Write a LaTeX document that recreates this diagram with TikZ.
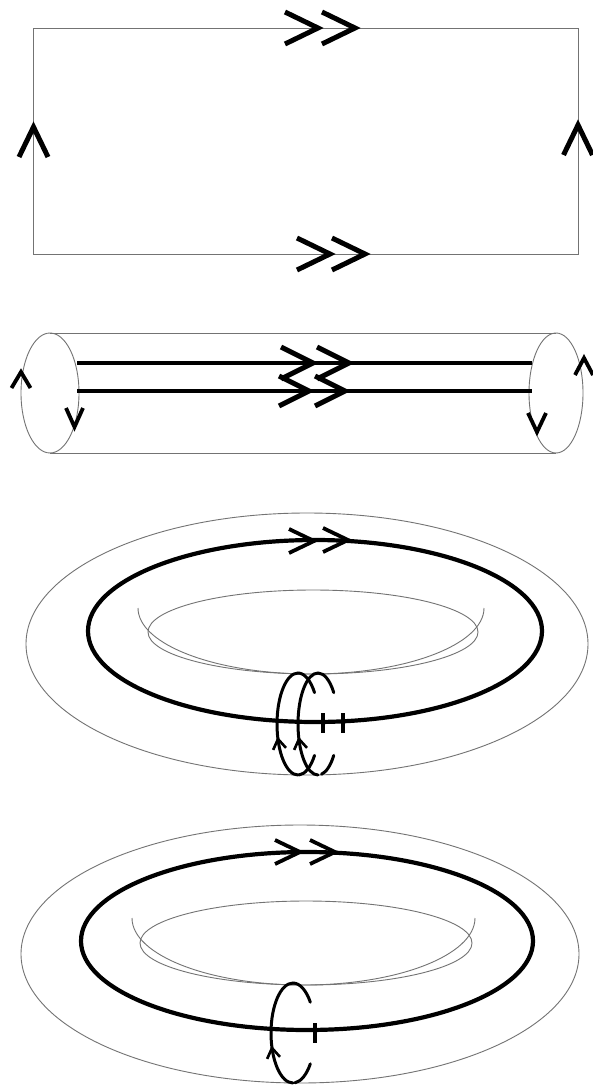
\documentclass[tikz,border=0pt]{standalone}
\begin{document}
\begin{tikzpicture}[x=1pt,y=1pt,
  outline/.style={draw=black!55, line width=0.9pt},
  strand/.style={draw=black, line width=4.8pt},
  ring/.style={draw=black, line width=4.2pt},
  loopline/.style={draw=black, line width=3pt, line cap=round},
  tickmark/.style={draw=black, line width=3.6pt},
  chevline/.style={draw=black, line join=miter, line cap=butt},
  pics/chev/.style n args={3}{code={\draw[chevline, line width=#3] (-#1,#2) -- (0,0) -- (-#1,-#2);}}
]
\useasboundingbox[fill=white] (0,0) rectangle (593,-1086);

% ---------- square ----------
\draw[outline] (33,-28) rectangle (578,-254);
\pic at (318,-28) {chev={33}{16}{5pt}};
\pic at (355,-28) {chev={33}{16}{5pt}};
\pic at (330,-254) {chev={33}{16}{5pt}};
\pic at (365,-254) {chev={33}{16}{5pt}};
\pic[rotate=90] at (33.5,-127) {chev={30}{14.5}{5pt}};
\pic[rotate=90] at (578,-125) {chev={30}{14.5}{5pt}};

% ---------- cylinder ----------
\draw[outline] (50,-393) ellipse[x radius=29, y radius=60];
\draw[outline] (556,-393) ellipse[x radius=27, y radius=60];
\draw[outline] (50,-333) -- (556,-333);
\draw[outline] (50,-453) -- (556,-453);
\draw[strand] (77,-363) -- (532,-363);
\draw[strand] (77,-391) -- (532,-391);
\pic at (313,-363) {chev={32}{16}{5pt}};
\pic at (349,-363) {chev={32}{16}{5pt}};
\pic at (309,-391) {chev={30}{15}{5pt}};
\pic at (345,-391) {chev={30}{15}{5pt}};
\pic[rotate=90] at (21,-372) {chev={16}{9.5}{3.8pt}};
\pic[rotate=-90] at (74.5,-427) {chev={19}{8.5}{3.8pt}};
\pic[rotate=90] at (584,-358) {chev={17}{9}{3.8pt}};
\pic[rotate=-90] at (537,-432) {chev={19}{9}{3.8pt}};

% ---------- torus 1 ----------
\draw[outline] (307,-644) ellipse[x radius=281, y radius=131];
\draw[outline] (313,-632) ellipse[x radius=165, y radius=42];
\draw[outline] (138,-608) arc[start angle=180, end angle=360, x radius=173, y radius=66];
\draw[ring] (315,-631) ellipse[x radius=227, y radius=91];
\pic at (314,-541) {chev={25}{12}{3.8pt}};
\pic at (348,-540) {chev={25}{12}{3.8pt}};
% meridian loops
\draw[loopline] (298,-775) arc[start angle=270, end angle=90, x radius=21, y radius=51];
\draw[loopline] (298,-673) arc[start angle=90, end angle=38, x radius=21, y radius=51];
\draw[loopline] (298,-724) ++(-38:21 and 51) arc[start angle=-38, end angle=-88, x radius=21, y radius=51];
\draw[loopline] (318,-775) arc[start angle=270, end angle=90, x radius=20, y radius=51];
\draw[loopline] (318,-673) arc[start angle=90, end angle=38, x radius=20, y radius=51];
\draw[loopline] (318,-724) ++(-38:20 and 51) arc[start angle=-38, end angle=-80, x radius=20, y radius=51];
\pic[rotate=99] at (278,-739) {chev={10}{6.5}{2.6pt}};
\pic[rotate=99] at (299,-739) {chev={10}{6.5}{2.6pt}};
\draw[tickmark] (323,-713) -- (323,-733);
\draw[tickmark] (343,-713) -- (343,-733);

% ---------- torus 2 ----------
\draw[outline] (300,-954) ellipse[x radius=279, y radius=129];
\draw[outline] (306,-943) ellipse[x radius=166, y radius=42];
\draw[outline] (132,-918) arc[start angle=180, end angle=360, x radius=171.5, y radius=67];
\draw[ring] (307,-941) ellipse[x radius=226, y radius=89];
\pic at (300,-852) {chev={25}{12}{3.8pt}};
\pic at (335,-852) {chev={25}{12}{3.8pt}};
\draw[loopline] (293,-1083) arc[start angle=270, end angle=90, x radius=22, y radius=50];
\draw[loopline] (293,-983) arc[start angle=90, end angle=38, x radius=22, y radius=50];
\draw[loopline] (293,-1033) ++(-38:22 and 50) arc[start angle=-38, end angle=-85, x radius=22, y radius=50];
\pic[rotate=99] at (272,-1048) {chev={10}{6.5}{2.6pt}};
\draw[tickmark] (315,-1023) -- (315,-1043);
\end{tikzpicture}
\end{document}
